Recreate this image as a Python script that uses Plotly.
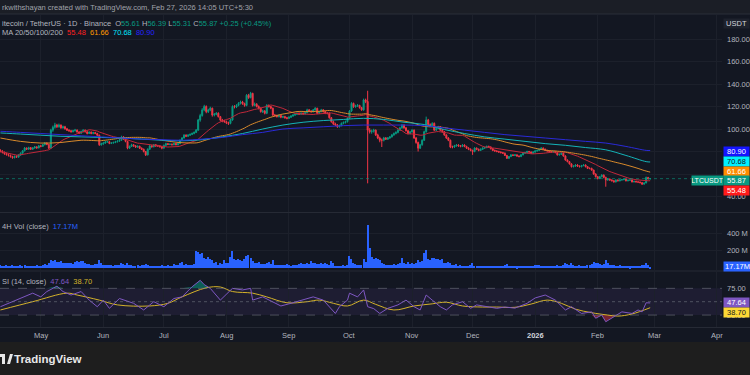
import plotly.graph_objects as go
import numpy as np
import pandas as pd

# ---------------- DATA ----------------
start_date = "2025-04-11"
first_open = 81.0
closes = [
    80.0, 79.2, 78.0, 77.2, 76.5, 75.4, 74.5, 75.6, 75.0, 76.8,
    78.5, 80.6, 83.0, 82.1, 83.4, 82.0, 83.1, 84.0, 83.2, 85.0,
    84.6, 86.0, 87.5, 86.3, 83.0, 99.0, 101.5, 103.5, 102.0, 103.5,
    101.0, 102.0, 100.2, 99.0, 98.4, 97.6, 98.5, 99.0, 97.4, 96.3,
    97.8, 99.0, 97.5, 96.0, 97.2, 96.0, 96.8, 96.0, 94.5, 86.0,
    86.8, 87.5, 88.4, 88.7, 87.2, 87.5, 88.0, 88.7, 89.2, 90.0,
    93.0, 91.0, 89.0, 83.0, 84.5, 86.0, 85.0, 84.0, 84.6, 83.0,
    82.0, 80.0, 77.0, 82.0, 85.0, 84.2, 86.0, 85.0, 85.0, 84.3,
    83.0, 85.5, 87.0, 86.2, 86.5, 86.0, 87.1, 86.0, 87.0, 90.0,
    92.0, 94.5, 93.6, 94.5, 95.2, 96.0, 97.0, 99.0, 108.0, 112.0,
    117.0, 120.0, 115.4, 117.0, 118.5, 112.4, 113.0, 114.0, 111.0, 108.0,
    107.2, 106.5, 105.5, 105.0, 108.0, 120.0, 119.5, 121.0, 122.8, 124.0,
    122.5, 121.0, 130.0, 128.0, 131.7, 121.0, 122.0, 120.0, 118.5, 115.4,
    116.0, 114.0, 121.0, 120.0, 118.5, 112.4, 112.0, 111.0, 112.0, 110.5,
    111.0, 110.0, 109.5, 110.5, 111.5, 112.4, 113.0, 114.0, 113.2, 114.0,
    113.5, 114.5, 117.0, 116.0, 115.4, 117.0, 118.4, 114.0, 115.5, 117.0,
    115.5, 114.0, 114.0, 110.0, 106.5, 104.5, 103.5, 102.0, 103.0, 105.0,
    105.8, 106.5, 109.5, 116.0, 122.8, 119.8, 120.5, 121.0, 119.0, 117.0,
    125.8, 124.5, 99.0, 97.6, 98.0, 99.0, 94.7, 92.0, 90.0, 90.0,
    92.0, 91.0, 92.0, 93.0, 94.7, 96.0, 97.0, 99.0, 101.0, 103.5,
    101.0, 98.5, 96.0, 97.5, 99.0, 92.0, 88.0, 83.0, 86.0, 90.0,
    97.6, 108.0, 104.0, 103.0, 105.0, 99.0, 100.5, 102.0, 99.0, 97.6,
    94.7, 92.0, 90.0, 84.0, 84.0, 85.0, 85.8, 85.0, 84.5, 85.8,
    84.5, 83.0, 82.0, 81.0, 80.0, 83.0, 82.0, 81.0, 82.0, 83.0,
    83.5, 84.5, 84.0, 82.5, 81.0, 80.5, 80.0, 79.5, 79.0, 78.5,
    76.5, 74.0, 75.5, 77.0, 76.5, 77.0, 76.0, 75.5, 77.0, 78.5,
    79.0, 80.0, 79.5, 78.5, 79.5, 80.5, 81.0, 82.0, 83.0, 82.0,
    81.0, 80.5, 80.0, 79.5, 80.0, 79.0, 77.0, 77.5, 78.5, 76.0,
    72.4, 71.0, 69.0, 66.5, 67.0, 68.0, 67.0, 66.5, 67.5, 68.0,
    66.5, 65.0, 65.0, 63.5, 60.0, 57.6, 56.0, 57.6, 59.0, 57.0,
    54.7, 55.5, 54.7, 54.0, 53.0, 54.7, 54.0, 54.7, 55.0, 55.5,
    54.0, 54.5, 54.7, 53.0, 53.5, 53.0, 52.8, 52.3, 51.0, 52.0,
    57.0, 55.61, 55.87,
]
highs = [
    82.0, 81.2, 80.0, 78.9, 78.1, 77.3, 76.2, 76.4, 76.6, 77.5,
    79.2, 81.3, 84.0, 83.6, 84.2, 84.0, 83.8, 84.9, 84.7, 85.8,
    85.9, 86.7, 88.4, 88.0, 86.9, 100.2, 103.0, 105.5, 104.6, 104.8,
    104.0, 103.0, 102.8, 101.0, 99.8, 99.2, 99.3, 100.1, 99.6, 98.0,
    98.6, 99.8, 99.5, 98.0, 97.9, 97.8, 97.5, 97.4, 96.6, 95.0,
    87.8, 88.3, 89.3, 89.5, 89.2, 88.3, 88.8, 89.5, 90.0, 91.2,
    94.0, 93.6, 91.6, 89.5, 85.3, 86.9, 86.6, 85.8, 85.4, 85.2,
    83.6, 82.6, 80.5, 82.8, 85.8, 85.7, 86.7, 86.5, 85.9, 85.6,
    84.8, 86.1, 87.8, 87.6, 87.2, 87.1, 87.8, 87.6, 87.6, 90.8,
    92.8, 95.4, 95.3, 95.3, 96.0, 96.9, 97.8, 100.0, 109.0, 113.5,
    118.5, 121.5, 121.0, 118.0, 119.8, 119.0, 114.2, 115.0, 114.8, 111.6,
    109.0, 108.2, 107.4, 106.5, 109.0, 121.0, 121.2, 122.0, 123.8, 125.2,
    125.0, 123.4, 131.0, 131.2, 133.0, 132.2, 123.5, 123.0, 121.0, 119.2,
    117.2, 116.8, 122.0, 121.8, 120.6, 119.0, 113.4, 112.8, 112.9, 112.6,
    111.8, 111.7, 110.8, 111.3, 112.2, 113.2, 113.9, 114.8, 114.8, 114.9,
    114.8, 115.2, 118.0, 117.8, 116.7, 117.8, 119.4, 118.9, 116.2, 117.9,
    117.6, 116.2, 115.0, 114.8, 110.6, 107.4, 105.6, 104.4, 103.9, 105.8,
    106.7, 107.4, 110.2, 116.8, 123.8, 123.4, 121.6, 122.2, 121.5, 119.7,
    127.0, 127.0, 134.0, 100.8, 99.5, 100.2, 99.6, 95.8, 93.2, 91.5,
    93.0, 92.9, 92.9, 93.8, 95.6, 96.9, 98.0, 99.8, 102.0, 104.5,
    104.2, 101.8, 99.2, 98.3, 99.8, 99.6, 92.8, 88.8, 86.8, 90.8,
    98.5, 111.0, 109.0, 105.0, 106.0, 105.8, 101.3, 102.8, 102.6, 100.0,
    98.2, 95.3, 92.7, 90.6, 85.2, 85.9, 86.6, 86.5, 85.8, 86.6,
    86.4, 85.1, 83.8, 82.8, 81.6, 83.8, 83.6, 82.6, 82.8, 83.8,
    84.3, 85.3, 85.2, 84.6, 83.1, 81.7, 81.2, 80.7, 80.2, 79.7,
    79.1, 77.0, 75.9, 77.7, 77.6, 77.7, 77.5, 76.6, 77.7, 79.2,
    79.8, 80.7, 80.6, 80.1, 80.2, 81.2, 81.7, 82.7, 83.8, 83.6,
    82.6, 81.6, 81.1, 80.6, 80.6, 80.6, 79.6, 78.1, 79.1, 79.0,
    76.6, 73.0, 71.6, 69.5, 67.7, 68.6, 68.7, 67.6, 68.1, 68.7,
    68.5, 67.0, 65.8, 65.6, 63.9, 60.6, 58.2, 58.3, 59.8, 59.6,
    57.6, 56.2, 56.0, 55.3, 54.6, 55.3, 55.2, 55.3, 55.6, 56.1,
    55.9, 55.0, 55.2, 55.2, 54.0, 54.0, 53.5, 53.3, 52.8, 52.5,
    57.6, 57.3, 56.39,
]
lows = [
    79.2, 78.3, 77.1, 76.4, 75.5, 74.6, 73.6, 73.9, 74.3, 74.6,
    76.2, 78.0, 80.1, 81.4, 81.5, 81.3, 81.5, 82.6, 82.5, 82.8,
    83.8, 84.0, 85.5, 85.6, 82.2, 82.6, 97.5, 100.3, 100.8, 101.2,
    100.2, 100.3, 99.4, 98.2, 97.5, 96.8, 97.0, 97.8, 96.7, 95.5,
    95.7, 97.0, 96.9, 95.2, 95.5, 95.3, 95.3, 95.4, 93.8, 85.0,
    85.2, 86.0, 86.9, 87.8, 86.5, 86.6, 87.0, 87.4, 88.0, 88.6,
    89.4, 90.3, 88.2, 82.0, 82.4, 84.0, 84.2, 83.2, 83.3, 82.2,
    81.3, 79.2, 76.0, 76.5, 81.5, 83.5, 83.7, 84.2, 84.2, 83.5,
    82.0, 82.6, 85.0, 85.6, 85.6, 85.4, 85.5, 85.4, 85.4, 86.6,
    89.4, 91.5, 92.8, 92.9, 93.8, 94.6, 95.3, 96.4, 98.4, 106.5,
    111.0, 115.8, 114.0, 114.2, 115.8, 111.0, 111.2, 112.2, 110.2, 106.8,
    106.0, 105.6, 104.4, 103.6, 104.2, 107.4, 118.3, 118.6, 120.2, 121.8,
    121.5, 119.8, 120.2, 126.8, 127.2, 120.0, 120.2, 119.2, 117.4, 114.6,
    114.2, 113.0, 113.2, 119.0, 117.6, 111.6, 111.0, 110.2, 110.3, 109.6,
    109.7, 109.2, 108.6, 108.9, 109.8, 110.9, 111.7, 112.4, 112.5, 112.6,
    112.7, 112.8, 114.0, 115.3, 114.6, 114.7, 116.3, 113.2, 113.4, 114.8,
    114.6, 113.2, 113.0, 109.2, 105.6, 103.6, 102.6, 101.0, 101.3, 102.4,
    104.2, 104.9, 105.8, 109.0, 115.2, 118.8, 118.9, 119.6, 118.1, 116.2,
    116.2, 123.0, 51.7, 96.0, 95.8, 96.8, 93.8, 91.0, 88.2, 84.0,
    89.0, 90.2, 90.2, 91.2, 92.4, 94.0, 95.2, 96.2, 98.2, 100.2,
    100.2, 97.7, 95.0, 95.2, 96.8, 91.2, 86.9, 80.0, 82.2, 85.2,
    89.4, 96.8, 103.0, 102.0, 102.2, 98.2, 98.2, 99.8, 98.2, 96.8,
    94.0, 91.2, 89.2, 83.0, 82.8, 83.2, 84.3, 84.2, 83.7, 83.9,
    83.8, 82.3, 81.2, 80.2, 77.0, 79.3, 81.2, 80.2, 80.4, 81.3,
    82.3, 82.9, 83.3, 81.8, 80.3, 79.8, 79.3, 78.8, 78.3, 77.8,
    76.0, 73.3, 73.4, 75.0, 75.9, 75.9, 75.4, 74.8, 75.0, 76.6,
    77.9, 78.4, 78.9, 77.9, 77.9, 78.9, 79.9, 80.4, 81.4, 81.4,
    80.4, 79.9, 79.4, 78.9, 78.9, 78.4, 76.4, 76.4, 76.9, 75.4,
    71.8, 70.4, 68.4, 65.8, 65.9, 66.4, 66.4, 65.9, 65.9, 66.9,
    65.9, 64.4, 64.2, 62.9, 59.4, 56.9, 55.2, 55.4, 57.0, 56.2,
    48.7, 54.0, 54.0, 53.4, 52.4, 52.5, 53.4, 53.4, 54.1, 54.4,
    53.4, 53.4, 54.0, 52.5, 52.5, 52.5, 52.2, 51.7, 50.4, 50.6,
    51.8, 55.2, 55.31,
]
volumes_m = [
    32, 28, 30, 35, 26, 30, 38, 28, 25, 30,
    34, 30, 40, 28, 26, 30, 24, 28, 32, 27,
    30, 35, 45, 38, 55, 95, 85, 90, 75, 70,
    80, 65, 60, 55, 60, 58, 50, 75, 80, 70,
    85, 78, 60, 48, 45, 42, 40, 45, 50, 90,
    55, 40, 35, 38, 32, 36, 30, 34, 40, 38,
    55, 45, 35, 60, 40, 32, 30, 28, 34, 30,
    32, 38, 45, 40, 30, 26, 28, 25, 30, 27,
    35, 30, 28, 32, 25, 30, 45, 35, 40, 60,
    70, 40, 45, 38, 42, 35, 48, 200, 190, 160,
    170, 120, 110, 130, 100, 95, 60, 70, 40, 65,
    45, 95, 55, 60, 130, 200, 100, 90, 110, 95,
    85, 100, 140, 150, 120, 80, 60, 55, 70, 50,
    48, 45, 55, 70, 45, 90, 40, 38, 35, 42,
    40, 35, 45, 38, 30, 40, 35, 42, 48, 55,
    50, 45, 65, 50, 85, 60, 55, 50, 45, 60,
    45, 55, 50, 40, 80, 60, 30, 28, 25, 30,
    32, 28, 35, 140, 110, 60, 45, 40, 35, 38,
    110, 70, 495, 230, 130, 110, 120, 100, 90, 60,
    45, 40, 35, 38, 42, 50, 40, 45, 55, 115,
    60, 50, 70, 45, 55, 50, 60, 90, 70, 85,
    170, 210, 110, 95, 120, 115, 100, 110, 90, 100,
    65, 55, 70, 60, 40, 35, 45, 30, 32, 28,
    30, 25, 28, 35, 55, 30, 28, 25, 30, 28,
    25, 28, 30, 26, 24, 30, 28, 25, 30, 26,
    35, 45, 30, 28, 25, 30, 22, 24, 28, 30,
    26, 30, 28, 25, 30, 35, 40, 32, 30, 28,
    25, 28, 30, 26, 24, 28, 35, 30, 28, 32,
    55, 45, 40, 60, 35, 30, 28, 32, 30, 26,
    30, 35, 40, 45, 75, 60, 65, 45, 40, 50,
    95, 55, 40, 35, 38, 30, 28, 32, 30, 26,
    28, 25, 22, 30, 26, 24, 28, 30, 35, 32,
    60, 35, 17.17,
]
# moving averages (day index from start_date)
ma_days = [0, 10, 20, 30, 40, 50, 60, 70, 80, 90, 100, 110, 120, 130, 140, 150, 160,
           170, 180, 190, 200, 210, 220, 230, 240, 250, 260, 270, 280, 290, 300, 310, 320, 322]
ma50_head_days = [0, 10, 20, 30, 40]
ma50_head = [92.0, 89.0, 87.5, 88.0, 90.0]
ma100 = [96.5, 95.5, 94.5, 93.5, 93.0, 92.5, 92.0, 91.0, 90.0, 89.5, 90.5, 93.0, 96.0, 100.0,
         103.5, 106.0, 107.5, 108.5, 109.5, 108.5, 106.0, 104.0, 99.5, 96.0, 93.0, 91.0, 89.0,
         87.0, 85.5, 83.5, 81.5, 76.5, 71.0, 70.68]
ma200 = [98.0, 97.0, 96.0, 95.0, 94.0, 93.0, 92.0, 91.0, 90.5, 90.0, 91.0, 92.5, 95.0, 97.0,
         100.0, 101.0, 102.0, 103.0, 103.5, 103.5, 103.5, 103.0, 101.0, 99.0, 97.0, 95.0,
         93.5, 92.0, 90.5, 89.0, 87.5, 84.5, 81.0, 80.9]
# RSI(14) and its moving average at (day index, value)
rsi_days = [0, 8, 16, 20, 23, 28, 31, 35, 40, 44, 48, 51, 54, 59, 66, 71, 76, 81, 86, 90,
            95, 99, 101, 104, 109, 115, 120, 124, 125, 130, 135, 139, 144, 149, 152, 155, 160,
            163, 166, 168, 172, 173, 177, 180, 182, 185, 188, 192, 197, 201, 205, 208, 211,
            214, 218, 221, 224, 229, 233, 236, 241, 246, 250, 255, 261, 265, 270, 275, 280,
            283, 288, 293, 295, 298, 300, 305, 308, 313, 316, 318, 320, 322]
rsi_vals = [40.6, 53, 66, 59, 69, 79, 69, 62.5, 69, 53, 40.6, 53, 37.6, 56, 47, 34.5, 50, 40.6,
            56, 59, 78, 90, 82, 75, 53, 75, 72, 75, 53, 59, 50, 42, 47, 53, 56, 59, 53, 40.6,
            28, 40.6, 53, 66, 59, 72, 40.6, 37, 28, 37.6, 44, 53, 40.6, 34.5, 62.5, 53, 40.6,
            34.5, 44, 50, 37.6, 44, 40.6, 37.6, 40, 38, 47, 57, 62.5, 53, 34.5, 40.6, 28, 31,
            19, 25, 12.5, 25, 31, 28, 34.5, 31, 48, 47.64]
rsi_ma_days = [0, 16, 33, 38, 49, 58, 74, 83, 90, 102, 109, 115, 125, 132, 142, 152, 158, 165,
               172, 180, 186, 195, 205, 214, 221, 229, 239, 246, 255, 263, 271, 278, 285, 293,
               301, 306, 313, 322]
rsi_ma_vals = [34.5, 50, 66, 62.5, 53, 44, 42, 47, 59, 76, 77.5, 69, 66, 59, 48, 50, 53, 47,
               42, 53, 45, 34.5, 42, 46, 49, 42, 40, 40, 39.5, 45.6, 53, 47, 36, 29.4, 25, 23,
               27, 38.70]
ma_last = [55.48, 61.66, 70.68, 80.90]
change_abs = 0.25
change_pct = 0.45
vol_last_m = 17.17
price_ticks = [40, 60, 80, 100, 120, 140, 160, 180]
vol_ticks = [200, 400]
rsi_ticks = [25, 75]
month_ticks = ["2025-05-01", "2025-06-01", "2025-07-01", "2025-08-01", "2025-09-01", "2025-10-01",
               "2025-11-01", "2025-12-01", "2026-01-01", "2026-02-01", "2026-03-01", "2026-04-01"]
month_labels = ["May", "Jun", "Jul", "Aug", "Sep", "Oct", "Nov", "Dec", "2026", "Feb", "Mar", "Apr"]

# ---------------- derived ----------------
n = len(closes)
dates = pd.date_range(start_date, periods=n, freq="D")
opens = [first_open] + closes[:-1]
cs = pd.Series(closes)
ma20 = cs.rolling(20, min_periods=1).mean()
ma50_tail = cs.rolling(50).mean()
ma50_x = [dates[d] for d in ma50_head_days] + list(dates[49:])
ma50_y = list(ma50_head) + list(ma50_tail[49:])
ma_x = [dates[d] for d in ma_days]
rsi_x = [dates[d] for d in rsi_days]
rsi_arr = np.array(rsi_vals, dtype=float)
rsi_ma_x = [dates[d] for d in rsi_ma_days]
rsi_last = rsi_vals[-1]
rsi_ma_last = rsi_ma_vals[-1]

# ---------------- styling / layout ----------------
W, H = 750, 375
def py(p):
    return 1 - p / H
def px(p):
    return p / W

BG = "#131722"
GREEN = "#089981"
RED = "#f23645"
TXT = "#b2b5be"
GRID = "#1c202b"
FONT = "Liberation Sans"
PLOT_R = 722

def lin_range(top_px, bot_px, v_at, px_per_unit, ref_px):
    top = v_at + (ref_px - top_px) / px_per_unit
    bot = v_at + (ref_px - bot_px) / px_per_unit
    return [bot, top]

price_rng = lin_range(15, 212, 100, 1.125, 129)
vol_rng = lin_range(213, 270, 0, 17.5 / 200, 268.2)
rsi_rng = lin_range(272, 327, 0, 0.534, 328.4)

fig = go.Figure()
fig.add_trace(go.Candlestick(
    x=dates, open=opens, high=highs, low=lows, close=closes,
    increasing=dict(line=dict(color=GREEN, width=1), fillcolor=GREEN),
    decreasing=dict(line=dict(color=RED, width=1), fillcolor=RED),
    whiskerwidth=0, xaxis="x", yaxis="y", showlegend=False, hoverinfo="skip"))

ma_colors = ["#c0283a", "#d98a2b", "#13b3b8", "#2a2ad8"]
fig.add_trace(go.Scatter(x=dates, y=ma20, mode="lines", line=dict(color=ma_colors[0], width=1),
                         xaxis="x", yaxis="y", showlegend=False, hoverinfo="skip"))
fig.add_trace(go.Scatter(x=ma50_x, y=ma50_y, mode="lines", line=dict(color=ma_colors[1], width=1, shape="spline"),
                         xaxis="x", yaxis="y", showlegend=False, hoverinfo="skip"))
fig.add_trace(go.Scatter(x=ma_x, y=ma100, mode="lines", line=dict(color=ma_colors[2], width=1, shape="spline"),
                         xaxis="x", yaxis="y", showlegend=False, hoverinfo="skip"))
fig.add_trace(go.Scatter(x=ma_x, y=ma200, mode="lines", line=dict(color=ma_colors[3], width=1, shape="spline"),
                         xaxis="x", yaxis="y", showlegend=False, hoverinfo="skip"))

fig.add_trace(go.Bar(x=dates, y=volumes_m, marker=dict(color="#2962ff", line=dict(width=0)),
                     width=0.62 * 86400000, xaxis="x2", yaxis="y2", showlegend=False, hoverinfo="skip"))

# RSI overbought/oversold fills
m = len(rsi_x)
fig.add_trace(go.Scatter(x=rsi_x, y=[75] * m, mode="lines", line=dict(width=0), xaxis="x3", yaxis="y3",
                         showlegend=False, hoverinfo="skip"))
fig.add_trace(go.Scatter(x=rsi_x, y=np.maximum(rsi_arr, 75), mode="lines", line=dict(width=0), fill="tonexty",
                         fillcolor="rgba(8,153,129,0.55)", xaxis="x3", yaxis="y3", showlegend=False, hoverinfo="skip"))
fig.add_trace(go.Scatter(x=rsi_x, y=[25] * m, mode="lines", line=dict(width=0), xaxis="x3", yaxis="y3",
                         showlegend=False, hoverinfo="skip"))
fig.add_trace(go.Scatter(x=rsi_x, y=np.minimum(rsi_arr, 25), mode="lines", line=dict(width=0), fill="tonexty",
                         fillcolor="rgba(242,54,69,0.45)", xaxis="x3", yaxis="y3", showlegend=False, hoverinfo="skip"))
fig.add_trace(go.Scatter(x=rsi_ma_x, y=rsi_ma_vals, mode="lines", line=dict(color="#d4b22a", width=1, shape="spline"),
                         xaxis="x3", yaxis="y3", showlegend=False, hoverinfo="skip"))
fig.add_trace(go.Scatter(x=rsi_x, y=rsi_vals, mode="lines", line=dict(color="#7e57c2", width=1),
                         xaxis="x3", yaxis="y3", showlegend=False, hoverinfo="skip"))

xr = [pd.Timestamp(start_date) - pd.Timedelta(hours=5), pd.Timestamp(start_date) + pd.Timedelta(days=357.6)]
xcommon = dict(range=xr, showticklabels=False, tickvals=month_ticks, showgrid=True, gridcolor=GRID,
               gridwidth=1, zeroline=False, showline=False, ticks="", domain=[0, px(PLOT_R)],
               automargin=False)
axfont = dict(family=FONT, size=7.5, color=TXT)

fig.update_layout(
    width=W, height=H, margin=dict(l=0, r=0, t=0, b=0, pad=0, autoexpand=False),
    paper_bgcolor=BG, plot_bgcolor=BG, showlegend=False, bargap=0,
    xaxis=dict(**xcommon, anchor="y", rangeslider=dict(visible=False)),
    xaxis2=dict(**xcommon, anchor="y2", matches="x"),
    xaxis3=dict(**xcommon, anchor="y3", matches="x"),
    yaxis=dict(domain=[py(212), py(15)], range=price_rng, side="right", anchor="x",
               tickvals=price_ticks, tickformat=".2f", tickfont=axfont, showgrid=True, gridcolor=GRID,
               zeroline=False, ticks="", ticklabelstandoff=4, automargin=False),
    yaxis2=dict(domain=[py(270), py(213)], range=vol_rng, side="right", anchor="x2",
                tickvals=vol_ticks, ticktext=[f"{v} M" for v in vol_ticks], tickfont=axfont,
                showgrid=True, gridcolor=GRID, zeroline=False, ticks="", ticklabelstandoff=4,
                automargin=False),
    yaxis3=dict(domain=[py(327), py(272)], range=rsi_rng, side="right", anchor="x3",
                tickvals=rsi_ticks, ticktext=[f"{v:.2f}" for v in rsi_ticks], tickfont=axfont,
                showgrid=False, zeroline=False, ticks="", ticklabelstandoff=4, automargin=False),
)

shapes = [
    dict(type="rect", xref="paper", yref="paper", x0=0, x1=1, y0=py(14), y1=1,
         fillcolor="#1b1e26", line=dict(width=0), layer="below"),
    dict(type="line", xref="paper", yref="paper", x0=0, x1=1, y0=py(14), y1=py(14),
         line=dict(color="#2a2e39", width=1)),
    dict(type="rect", xref="paper", yref="paper", x0=0, x1=1, y0=0, y1=py(342),
         fillcolor="#1e1e1e", line=dict(width=0), layer="below"),
    dict(type="line", xref="paper", yref="paper", x0=0, x1=1, y0=py(212.5), y1=py(212.5),
         line=dict(color="#262a35", width=1)),
    dict(type="line", xref="paper", yref="paper", x0=0, x1=1, y0=py(271), y1=py(271),
         line=dict(color="#262a35", width=1)),
    dict(type="line", xref="paper", yref="paper", x0=0, x1=1, y0=py(327.5), y1=py(327.5),
         line=dict(color="#262a35", width=1)),
    dict(type="rect", xref="paper", yref="y3", x0=0, x1=px(PLOT_R), y0=25, y1=75,
         fillcolor="rgba(126,87,194,0.10)", line=dict(width=0), layer="below"),
    dict(type="line", xref="paper", yref="y", x0=0, x1=px(PLOT_R), y0=closes[-1], y1=closes[-1],
         line=dict(color="rgba(8,153,129,0.6)", width=1, dash="dot")),
    # TradingView logo mark (cut at the left edge)
    dict(type="path", xref="paper", yref="paper",
         path=f"M {px(0)} {py(354)} L {px(5)} {py(354)} L {px(5)} {py(364)} L {px(2)} {py(364)} "
              f"L {px(2)} {py(357)} L {px(0)} {py(357)} Z",
         fillcolor="#e8e8e8", line=dict(width=0)),
    dict(type="path", xref="paper", yref="paper",
         path=f"M {px(7)} {py(364)} L {px(10)} {py(354)} L {px(13)} {py(354)} L {px(10)} {py(364)} Z",
         fillcolor="#e8e8e8", line=dict(width=0)),
]
for lvl, dash in [(75, "dash"), (50, "dot"), (25, "dash")]:
    shapes.append(dict(type="line", xref="paper", yref="y3", x0=0, x1=px(PLOT_R), y0=lvl, y1=lvl,
                       line=dict(color="rgba(120,123,134,0.55)", width=1, dash=dash)))
fig.update_layout(shapes=shapes)

ann = []
def text(x, y, s, size=7.5, color=TXT, xanchor="left", **kw):
    ann.append(dict(xref="paper", yref="paper", x=px(x), y=py(y), text=s, showarrow=False,
                    xanchor=xanchor, yanchor="middle", font=dict(family=FONT, size=size, color=color), **kw))

text(0, 7.5, "rkwithshayan created with TradingView.com, Feb 27, 2026 14:05 UTC+5:30", size=7.5, color="#a0a3ab")
g = GREEN
line1 = ("itecoin / TetherUS · 1D · Binance  "
         f"O<span style='color:{g}'>{opens[-1]:.2f}</span> H<span style='color:{g}'>{highs[-1]:.2f}</span> "
         f"L<span style='color:{g}'>{lows[-1]:.2f}</span> C<span style='color:{g}'>{closes[-1]:.2f}</span> "
         f"<span style='color:{g}'>+{change_abs:.2f} (+{change_pct:.2f}%)</span>")
text(0, 23, line1)
label_cols = ["#ff2020", "#ff9800", "#00e5ff", "#2323ff"]
line2 = "MA 20/50/100/200  " + "  ".join(
    f"<span style='color:{c}'>{v:.2f}</span>" for c, v in zip(label_cols, ma_last))
text(0, 32, line2)
text(0, 227, f"4H Vol (close)  <span style='color:#2962ff'>{vol_last_m:.2f}M</span>")
text(0, 281.5, f"SI (14, close)  <span style='color:#7e57c2'>{rsi_last:.2f}</span>  "
               f"<span style='color:#d4b22a'>{rsi_ma_last:.2f}</span>")
text(12, 359, "<b>TradingView</b>", size=11.5, color="#e8e8e8")

for d, lab in zip(month_ticks, month_labels):
    ann.append(dict(xref="x3", yref="paper", x=d, y=py(335), text=f"<b>{lab}</b>" if lab.isdigit() else lab,
                    showarrow=False, xanchor="center", yanchor="middle",
                    font=dict(family=FONT, size=7.5, color="#d1d4dc" if lab.isdigit() else TXT)))

def tag(yref, yval, s, bg, fg, yshift=0, x=723, width=25, size=7.5):
    ann.append(dict(xref="paper", yref=yref, x=px(x), y=yval, text=s, showarrow=False,
                    xanchor="left", yanchor="middle", yshift=yshift, bgcolor=bg, borderpad=0,
                    width=width, height=9, align="center", font=dict(family=FONT, size=size, color=fg)))

tag("paper", py(23), "USDT", "#1e222d", "#d1d4dc")
tag("y", ma_last[3], f"{ma_last[3]:.2f}", "#1414ff", "#ffffff", yshift=-1)
tag("y", ma_last[2], f"{ma_last[2]:.2f}", "#00f0ff", "#131722", yshift=0)
tag("y", ma_last[1], f"{ma_last[1]:.2f}", "#ff8c00", "#ffffff", yshift=1)
tag("y", closes[-1], f"{closes[-1]:.2f}", GREEN, "#ffffff", yshift=-2)
tag("y", closes[-1], "LTCUSDT", GREEN, "#ffffff", yshift=-2, x=691, width=31, size=7)
tag("y", ma_last[0], f"{ma_last[0]:.2f}", "#ff1a1a", "#ffffff", yshift=-11.5)
tag("y2", vol_last_m, f"{vol_last_m:.2f}M", "#2962ff", "#ffffff", yshift=0, width=27)
tag("y3", rsi_last, f"{rsi_last:.2f}", "#7e57c2", "#ffffff", yshift=0.5)
tag("y3", rsi_ma_last, f"{rsi_ma_last:.2f}", "#fdd835", "#131722", yshift=-5)

fig.update_layout(annotations=ann)
fig.write_html("out.html", config={"displayModeBar": False},
               post_script="document.body.style.margin='0';document.body.style.overflow='hidden';")
